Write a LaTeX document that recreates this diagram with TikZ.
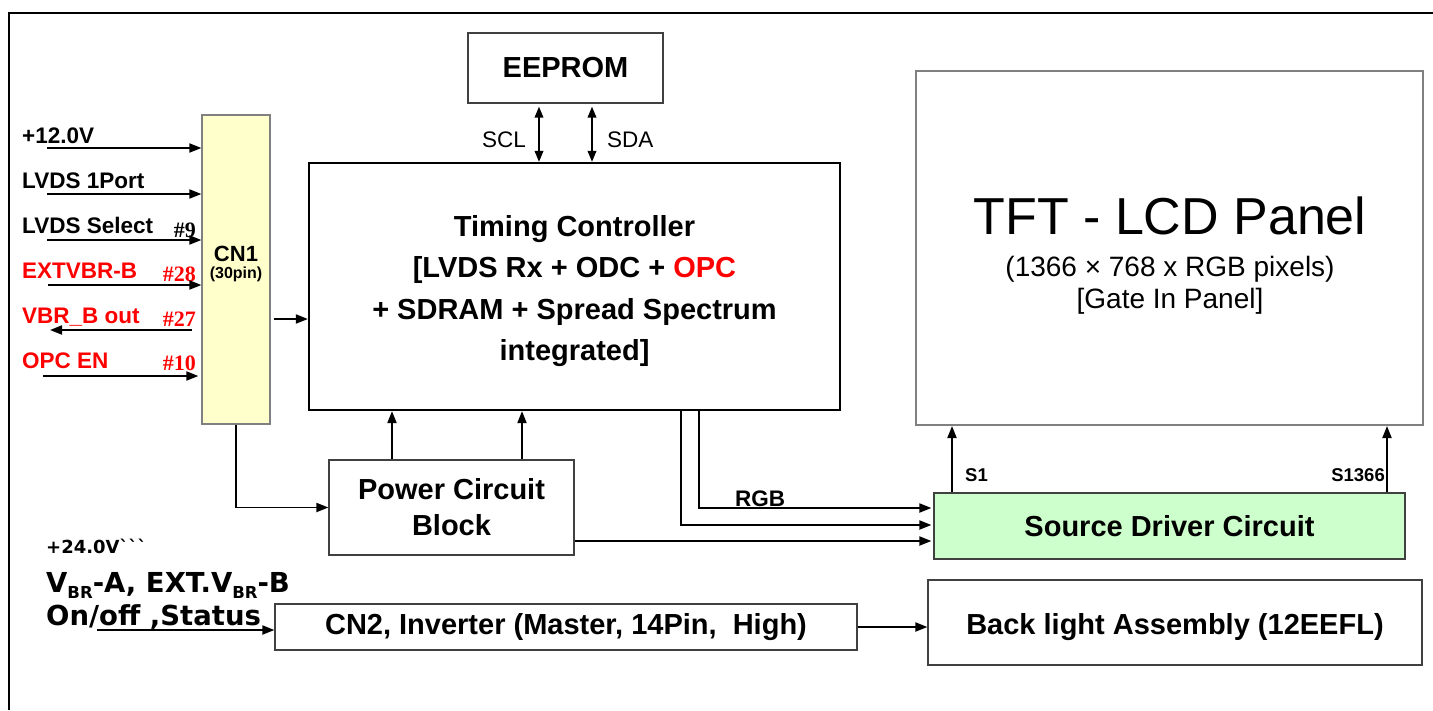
\documentclass[tikz,border=0pt]{standalone}
\usepackage{fontspec}
\setmainfont{Liberation Sans}
\newfontfamily\tms{Liberation Serif}
\newfontfamily\dvs{DejaVu Sans}[Ligatures=TeXOff]
\usetikzlibrary{arrows.meta}
\definecolor{cnfill}{HTML}{FFFFCC}
\definecolor{srcfill}{HTML}{CCFFCC}
\definecolor{redtxt}{HTML}{FF0000}
\definecolor{edgegray}{HTML}{808080}
\newcommand{\fs}[1]{\fontsize{#1}{#1}\selectfont}
\newcommand{\mysub}{\raisebox{-0.22em}{\fontsize{16.5}{16.5}\selectfont BR}}
\begin{document}
\begin{tikzpicture}[x=1pt,y=-1pt,
  blk/.style={rectangle, draw=black!75, line width=1.2pt, inner sep=0pt},
  tcbox/.style={rectangle, draw=black, line width=2.2pt, inner sep=0pt},
  arr/.style={line width=1.9pt, -{Triangle[length=12pt,width=9pt]}},
  dbl/.style={line width=1.9pt, {Triangle[length=11pt,width=8.5pt]}-{Triangle[length=11pt,width=8.5pt]}},
  lbl/.style={anchor=base west, inner sep=0pt, font=\bfseries\fs{22.5}},
  pin/.style={anchor=base east, inner sep=0pt, font=\tms\bfseries\fs{22}},
  btxt/.style={font=\bfseries\fs{29}, align=center}]
\useasboundingbox (0,0) rectangle (1433,710);
\fill[white] (0,0) rectangle (1433,710);
% outer frame
\draw[line width=2.5pt] (1433,13) -- (9,13) -- (9,710);

% boxes
\node[blk, minimum width=195pt, minimum height=70pt, btxt] (eeprom) at (565.5,68) {EEPROM};
\node[tcbox, minimum width=531pt, minimum height=247pt] (tc) at (574.5,286.5) {};
\node[inner sep=0pt, font=\bfseries\fontsize{29}{41.5}\selectfont, align=center] (tctxt) at (574.5,291)
  {Timing Controller\\{[}LVDS Rx + ODC + \textcolor{redtxt}{OPC}\\+ SDRAM + Spread Spectrum\\integrated{]}};
\node[rectangle, draw=edgegray, line width=1.2pt, fill=cnfill, minimum width=68pt, minimum height=309pt] (cn1) at (236,269.5) {};
\node[anchor=base, inner sep=0pt, font=\bfseries\fs{22}] (cn1a) at (236,261.5) {CN1};
\node[anchor=base, inner sep=0pt, font=\bfseries\fs{16}] (cn1b) at (236,278) {(30pin)};
\node[blk, minimum width=245pt, minimum height=95pt, font=\bfseries\fontsize{29}{36}\selectfont, align=center] (pwr) at (451.5,507.5) {Power Circuit\\Block};
\node[rectangle, draw=edgegray, line width=2pt, minimum width=507pt, minimum height=354pt] (tft) at (1169.5,248) {};
\node[anchor=base, inner sep=0pt, font=\fs{52}] (tft1) at (1170,234) {TFT - LCD Panel};
\node[anchor=base, inner sep=0pt, font=\fs{28}] (tft2) at (1170,276) {(1366 × 768 x RGB pixels)};
\node[anchor=base, inner sep=0pt, font=\fs{28}] (tft3) at (1170,308) {[Gate In Panel]};
\node[blk, fill=srcfill, minimum width=471pt, minimum height=66pt, btxt] (src) at (1169.5,526) {Source Driver Circuit};
\node[blk, minimum width=582pt, minimum height=46pt, btxt] (cn2) at (566,627) {CN2, Inverter (Master, 14Pin,\ \ High)};
\node[blk, minimum width=494pt, minimum height=85pt] (bl) at (1175,622.5) {};
\node[btxt, inner sep=0pt] (bltxt) at (1175,627) {Back light Assembly (12EEFL)};

% left labels
\node[lbl] (l1) at (22,143) {+12.0V};
\node[lbl] (l2) at (22,188) {LVDS 1Port};
\node[lbl] (l3) at (22,233) {LVDS Select};
\node[lbl, text=redtxt] (l4) at (22,278) {EXTVBR-B};
\node[lbl, text=redtxt] (l5) at (22,323) {VBR\_B out};
\node[lbl, text=redtxt] (l6) at (22,368) {OPC EN};
\node[pin] (p9) at (196,237) {\#9};
\node[pin, text=redtxt] (p28) at (196,281) {\#28};
\node[pin, text=redtxt] (p27) at (196,326) {\#27};
\node[pin, text=redtxt] (p10) at (196,370) {\#10};

\coordinate (i1) at (47,148);
\coordinate (i2) at (47,194);
\coordinate (i3) at (47,240);
\coordinate (i4) at (48,285);
\coordinate (o5) at (50,330);
\coordinate (i6) at (43,376);
\draw[arr] (i1) -- (i1 -| cn1.west);
\draw[arr] (i2) -- (i2 -| cn1.west);
\draw[arr] (i3) -- (i3 -| cn1.west);
\draw[arr] (i4) -- (i4 -| cn1.west);
\draw[arr, shorten <=9pt] (o5 -| cn1.west) -- (o5);
\draw[arr, shorten >=3pt] (i6) -- (i6 -| cn1.west);

% CN1 -> TC, CN1 -> Power
\coordinate (y319) at (0,319);
\draw[arr, shorten <=3pt] (cn1.east |- y319) -- (tc.west |- y319);
\draw[arr] (cn1.south) |- (pwr.west);

% EEPROM <-> TC
\coordinate (sclx) at (539,0);
\coordinate (sdax) at (592,0);
\draw[dbl, shorten <=3pt] (eeprom.south -| sclx) -- (tc.north -| sclx);
\draw[dbl, shorten <=3pt] (eeprom.south -| sdax) -- (tc.north -| sdax);
\node[anchor=base west, inner sep=0pt, font=\fs{22.5}] (scl) at (482,147) {SCL};
\node[anchor=base west, inner sep=0pt, font=\fs{22.5}] (sda) at (607,147) {SDA};

% Power -> TC
\coordinate (p1x) at (392,0);
\coordinate (p2x) at (522,0);
\draw[arr] (pwr.north -| p1x) -- (tc.south -| p1x);
\draw[arr] (pwr.north -| p2x) -- (tc.south -| p2x);

% TC/Power -> Source driver
\coordinate (c681) at (681,0);
\coordinate (c699) at (699,0);
\coordinate (y508) at (0,508);
\coordinate (y525) at (0,525);
\coordinate (y541) at (0,541);
\draw[arr, shorten >=2pt] (tc.south -| c699) |- (src.west |- y508);
\draw[arr, shorten >=2pt] (tc.south -| c681) |- (src.west |- y525);
\draw[arr, shorten >=2pt] (pwr.east |- y541) -- (src.west |- y541);
\node[lbl] (rgb) at (735,506) {RGB};

% Source driver -> panel
\coordinate (s1x) at (952,0);
\coordinate (snx) at (1387,0);
\draw[arr] (src.north -| s1x) -- (tft.south -| s1x);
\draw[arr] (src.north -| snx) -- (tft.south -| snx);
\node[anchor=base west, inner sep=0pt, font=\bfseries\fs{18.5}] (s1) at (965,481) {S1};
\node[anchor=base east, inner sep=0pt, font=\bfseries\fs{18.5}] (sn) at (1385,481) {S1366};

% bottom left
\node[anchor=base west, inner sep=0pt, font=\dvs\bfseries\fs{18}] (v24) at (46,553) {+24.0V\symbol{96}\symbol{96}\symbol{96}};
\node[anchor=base west, inner sep=0pt, font=\dvs\bfseries\fs{27.5}] (vbr) at (46,592) {V\mysub-A, EXT.V\mysub-B};
\node[anchor=base west, inner sep=0pt, font=\dvs\bfseries\fs{27.5}] (onoff) at (46,625) {On/off ,Status};
\coordinate (oo) at (97,630);
\draw[arr] (oo) -- (cn2.west |- oo);
\draw[arr] (cn2.east) -- (bl.west |- cn2.east);
\end{tikzpicture}
\end{document}
